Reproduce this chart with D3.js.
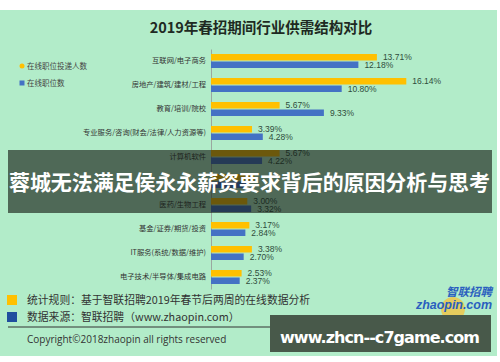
<!DOCTYPE html>
<html>
<head>
<meta charset="utf-8">
<script src="https://cdn.jsdelivr.net/npm/d3@7"></script>
<style>
  html, body { margin: 0; padding: 0; background: #fff; }
  svg { display: block; font-family: "Noto Sans CJK SC", "Noto Sans", sans-serif; }
</style>
</head>
<body>
<div id="chart"></div>
<script>
// industries, top to bottom (row 6 is hidden under the banner)
const categories = [
  "互联网/电子商务",
  "房地产/建筑/建材/工程",
  "教育/培训/院校",
  "专业服务/咨询(财会/法律/人力资源等)",
  "计算机软件",
  "",
  "医药/生物工程",
  "基金/证券/期货/投资",
  "IT服务(系统/数据/维护)",
  "电子技术/半导体/集成电路"
];
// 在线职位投递人数 (%)
const applicants = [13.71, 16.14, 5.67, 3.39, 5.67, 3.6, 3.00, 3.17, 3.38, 2.53];
// 在线职位数 (%)
const positions = [12.18, 10.80, 9.33, 4.28, 4.22, 3.0, 3.32, 2.84, 2.70, 2.37];
const seriesNames = ["在线职位投递人数", "在线职位数"];
const colors = ["#ffc000", "#4472c4"];

const W = 500, H = 362;
const svg = d3.select("#chart").append("svg")
  .attr("width", W)
  .attr("height", H);

// mint background panel
svg.append("rect")
  .attr("x", 0).attr("y", 10)
  .attr("width", 497).attr("height", 346)
  .attr("fill", "#b2ecc9");

svg.append("text")
  .attr("x", 261).attr("y", 33)
  .attr("text-anchor", "middle")
  .attr("font-size", 14.5)
  .attr("font-weight", "bold")
  .attr("fill", "#1e2a22")
  .text("2019年春招期间行业供需结构对比");

var x = d3.scaleLinear()
  .domain([0, 20])
  .range([211, 453]);

var y = d3.scaleBand()
  .domain(d3.range(categories.length))
  .range([49, 289]);

const rows = categories.map((c, i) => ({ i: i, name: c, a: applicants[i], p: positions[i] }));

// category axis
var yAxis = d3.axisLeft(y)
  .tickSize(0)
  .tickPadding(5)
  .tickFormat(i => categories[i]);

var gy = svg.append("g")
  .attr("transform", `translate(${x(0)},0)`)
  .call(yAxis);
gy.select(".domain").attr("stroke", "#9aa8a0");
gy.selectAll("text")
  .attr("font-size", 7.3)
  .attr("fill", "#333")
  .attr("font-family", "'Noto Sans CJK SC', sans-serif");

const mid = i => y(i) + y.bandwidth() / 2;

// bars
svg.append("g").selectAll("rect")
  .data(rows)
  .enter().append("rect")
  .attr("x", x(0))
  .attr("y", d => mid(d.i) - 7)
  .attr("width", d => x(d.a) - x(0))
  .attr("height", 6.5)
  .attr("fill", colors[0]);

svg.append("g").selectAll("rect")
  .data(rows)
  .enter().append("rect")
  .attr("x", x(0))
  .attr("y", d => mid(d.i) + 0.5)
  .attr("width", d => x(d.p) - x(0))
  .attr("height", 6.5)
  .attr("fill", colors[1]);

// value labels (the covered row shows none)
const fmt = v => v.toFixed(2) + "%";
const labelled = rows.filter(d => d.name !== "");
svg.append("g").selectAll("text")
  .data(labelled)
  .enter().append("text")
  .attr("x", d => x(d.a) + 6)
  .attr("y", d => mid(d.i) - 1)
  .attr("font-size", 8.5)
  .attr("fill", "#2f4d3b")
  .attr("font-family", "'Liberation Sans', sans-serif")
  .text(d => fmt(d.a));

svg.append("g").selectAll("text")
  .data(labelled)
  .enter().append("text")
  .attr("x", d => x(d.p) + 6)
  .attr("y", d => mid(d.i) + 7)
  .attr("font-size", 8.5)
  .attr("fill", "#2f4d3b")
  .attr("font-family", "'Liberation Sans', sans-serif")
  .text(d => fmt(d.p));

// legend
var legend = svg.append("g").selectAll("g")
  .data(seriesNames)
  .enter().append("g")
  .attr("transform", (d, i) => `translate(22, ${66 + i * 17})`);
legend.append("rect")
  .attr("x", -2.5).attr("y", -2.5)
  .attr("width", 5).attr("height", 5)
  .attr("rx", (d, i) => i === 0 ? 2.5 : 0)
  .attr("fill", (d, i) => colors[i]);
legend.append("text")
  .attr("x", 5).attr("y", 2.5)
  .attr("font-size", 7.5)
  .attr("fill", "#444")
  .text(d => d);

// footnotes
const notes = ["统计规则：基于智联招聘2019年春节后两周的在线数据分析", "数据来源：智联招聘（www.zhaopin.com）"];
const noteColors = ["#ffc000", "#1f4e9e"];
var foot = svg.append("g").selectAll("g")
  .data(notes)
  .enter().append("g")
  .attr("transform", (d, i) => `translate(0, ${300 + i * 17})`);
foot.append("rect")
  .attr("x", 7).attr("y", -5)
  .attr("width", 10).attr("height", 10)
  .attr("fill", (d, i) => noteColors[i]);
foot.append("text")
  .attr("x", 27).attr("y", 4)
  .attr("font-size", 10.8)
  .attr("fill", "#333")
  .text(d => d);

svg.append("line")
  .attr("x1", 8).attr("x2", 490)
  .attr("y1", 327).attr("y2", 327)
  .attr("stroke", "#333").attr("stroke-width", 1);

svg.append("text")
  .attr("x", 27).attr("y", 343)
  .attr("font-size", 10)
  .attr("fill", "#333")
  .attr("font-family", "'Open Sans', sans-serif")
  .text("Copyright©2018zhaopin all rights reserved");

// zhaopin logo
svg.append("circle")
  .attr("cx", 453).attr("cy", 309).attr("r", 12)
  .attr("fill", "#f5c23a").attr("opacity", 0.75);
svg.append("text")
  .attr("x", 492).attr("y", 296)
  .attr("text-anchor", "end")
  .attr("font-size", 11.5)
  .attr("font-style", "italic")
  .attr("font-weight", "bold")
  .attr("fill", "#2a5fbf")
  .text("智联招聘");
svg.append("text")
  .attr("x", 492).attr("y", 309)
  .attr("text-anchor", "end")
  .attr("font-size", 12.5)
  .attr("font-style", "italic")
  .attr("font-weight", "bold")
  .attr("fill", "#2a5fbf")
  .attr("font-family", "'Liberation Sans', sans-serif")
  .attr("textLength", 76)
  .text("zhaopin.com");

// overlay banner
svg.append("rect")
  .attr("x", 8).attr("y", 150)
  .attr("width", 484).attr("height", 63)
  .attr("fill", "rgb(18,24,18)").attr("opacity", 0.62);
svg.append("text")
  .attr("x", 9).attr("y", 190)
  .attr("font-size", 21)
  .attr("font-weight", "bold")
  .attr("fill", "#fff")
  .attr("textLength", 481)
  .text("蓉城无法满足侯永永薪资要求背后的原因分析与思考");

// watermark box
svg.append("rect")
  .attr("x", 270).attr("y", 315)
  .attr("width", 221).attr("height", 37)
  .attr("fill", "#48594a");
svg.append("text")
  .attr("x", 280).attr("y", 343)
  .attr("font-size", 16)
  .attr("font-weight", "bold")
  .attr("fill", "#fff")
  .attr("font-family", "'DejaVu Sans', sans-serif")
  .attr("textLength", 200)
  .text("www.zhcn--c7game.com");
</script>
</body>
</html>
